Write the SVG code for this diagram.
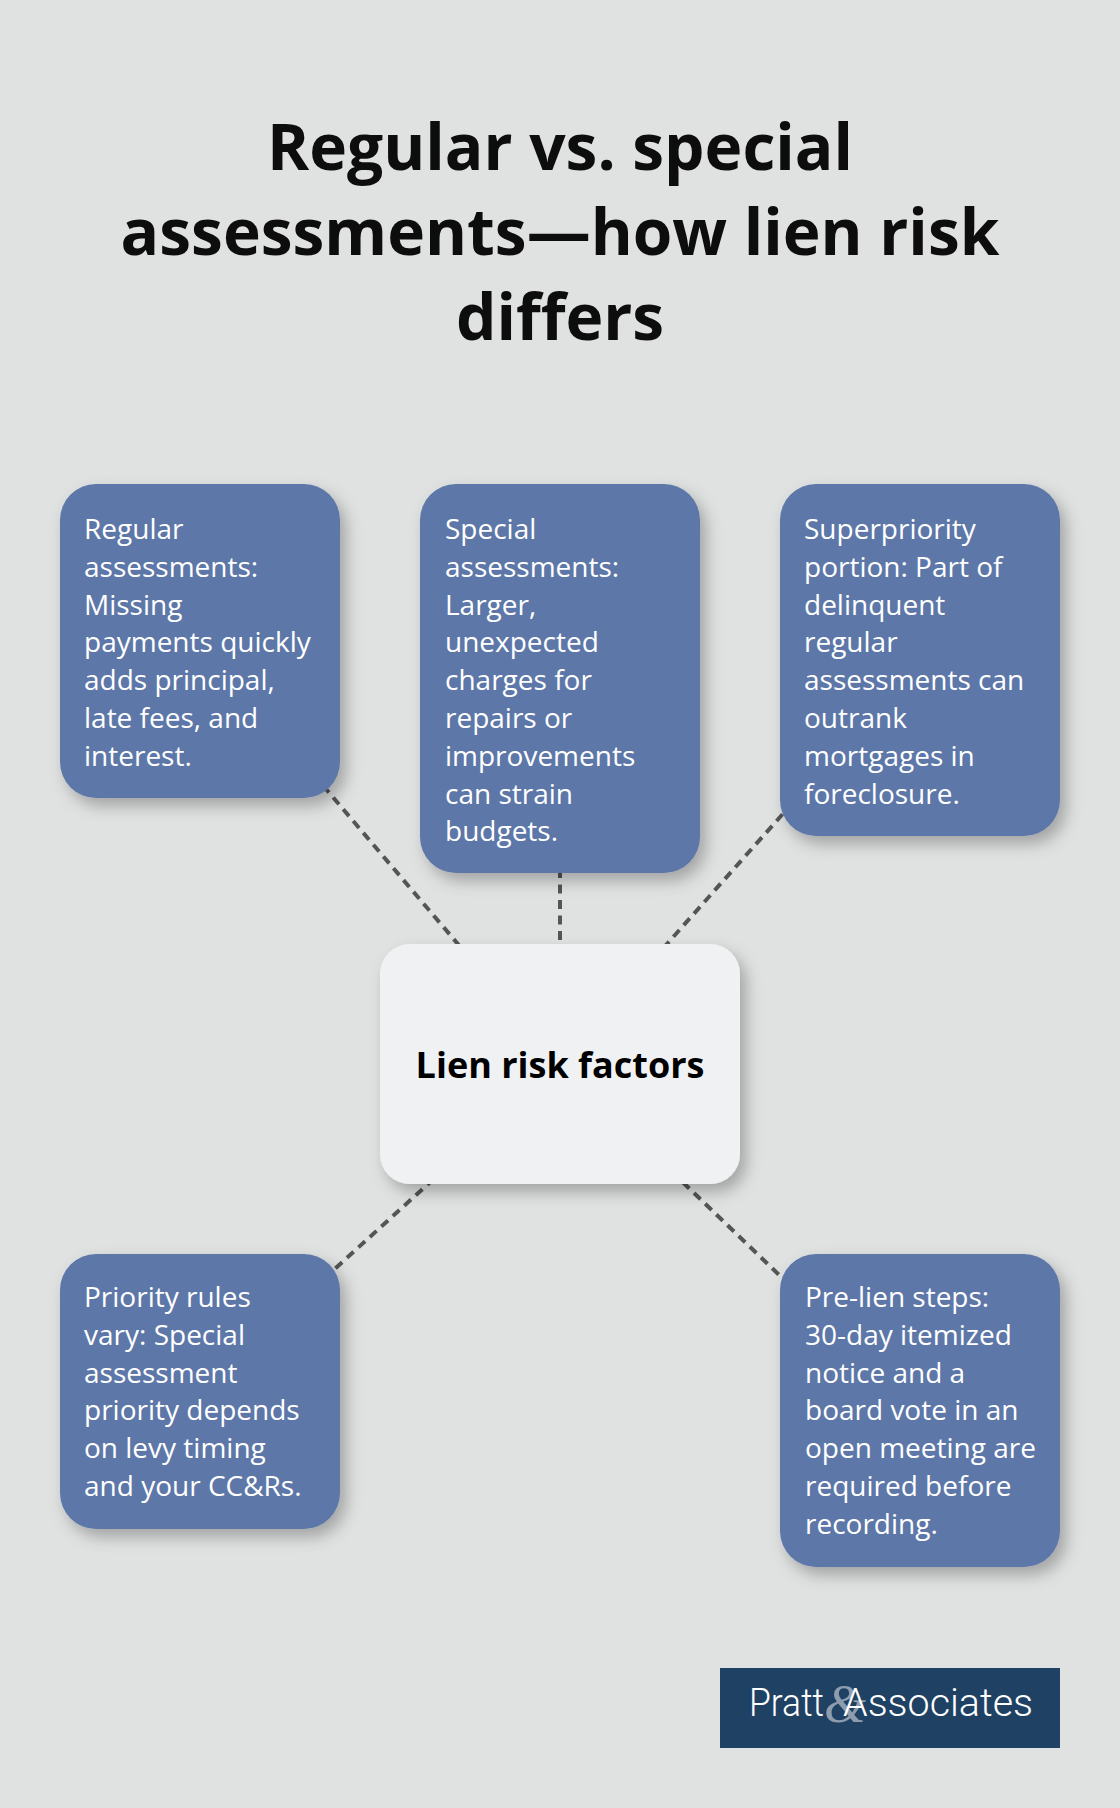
<svg xmlns="http://www.w3.org/2000/svg" width="1120" height="1808" viewBox="0 0 1120 1808">
  <defs>
    <filter id="shadow" x="-20%" y="-20%" width="150%" height="150%">
      <feDropShadow dx="6" dy="8" stdDeviation="8" flood-color="#000" flood-opacity="0.28"/>
    </filter>
    <style>
      .title { font-family: "Open Sans", "Noto Sans", "DejaVu Sans", sans-serif; font-weight: 700; font-size: 64px; fill: #0d0d0d; text-anchor: middle; }
      .box { fill: #5d77a8; filter: url(#shadow); }
      .hub { fill: #f0f1f3; filter: url(#shadow); }
      .body { font-family: "Open Sans", "Noto Sans", "DejaVu Sans", sans-serif; font-size: 28px; fill: #ffffff; }
      .hubtext { font-family: "Open Sans", "Noto Sans", "DejaVu Sans", sans-serif; font-weight: 700; font-size: 36px; fill: #000000; text-anchor: middle; }
      .link { stroke: #555555; stroke-width: 4; stroke-dasharray: 9 6.5; fill: none; }
    </style>
  </defs>

  <rect x="0" y="0" width="1120" height="1808" fill="#e0e2e1"/>

  <g id="title">
    <text class="title" x="560" y="170">Regular vs. special</text>
    <text class="title" x="560" y="255">assessments—how lien risk</text>
    <text class="title" x="560" y="340">differs</text>
  </g>

  <g id="connectors">
    <line class="link" x1="560" y1="1064" x2="200" y2="641"/>
    <line class="link" x1="560" y1="1064" x2="560" y2="678.5"/>
    <line class="link" x1="560" y1="1064" x2="920" y2="660"/>
    <line class="link" x1="560" y1="1064" x2="200" y2="1391.5"/>
    <line class="link" x1="560" y1="1064" x2="920" y2="1410.5"/>
  </g>

  <g id="node-regular">
    <rect class="box" x="60" y="484" width="280" height="314" rx="36"/>
    <text class="body" x="84" y="539">
      <tspan x="84" dy="0">Regular</tspan>
      <tspan x="84" dy="37.8">assessments:</tspan>
      <tspan x="84" dy="37.8">Missing</tspan>
      <tspan x="84" dy="37.8">payments quickly</tspan>
      <tspan x="84" dy="37.8">adds principal,</tspan>
      <tspan x="84" dy="37.8">late fees, and</tspan>
      <tspan x="84" dy="37.8">interest.</tspan>
    </text>
  </g>

  <g id="node-special">
    <rect class="box" x="420" y="484" width="280" height="389" rx="36"/>
    <text class="body" x="445" y="539">
      <tspan x="445" dy="0">Special</tspan>
      <tspan x="445" dy="37.8">assessments:</tspan>
      <tspan x="445" dy="37.8">Larger,</tspan>
      <tspan x="445" dy="37.8">unexpected</tspan>
      <tspan x="445" dy="37.8">charges for</tspan>
      <tspan x="445" dy="37.8">repairs or</tspan>
      <tspan x="445" dy="37.8">improvements</tspan>
      <tspan x="445" dy="37.8">can strain</tspan>
      <tspan x="445" dy="37.8">budgets.</tspan>
    </text>
  </g>

  <g id="node-superpriority">
    <rect class="box" x="780" y="484" width="280" height="352" rx="36"/>
    <text class="body" x="804" y="539">
      <tspan x="804" dy="0">Superpriority</tspan>
      <tspan x="804" dy="37.8">portion: Part of</tspan>
      <tspan x="804" dy="37.8">delinquent</tspan>
      <tspan x="804" dy="37.8">regular</tspan>
      <tspan x="804" dy="37.8">assessments can</tspan>
      <tspan x="804" dy="37.8">outrank</tspan>
      <tspan x="804" dy="37.8">mortgages in</tspan>
      <tspan x="804" dy="37.8">foreclosure.</tspan>
    </text>
  </g>

  <g id="node-hub">
    <rect class="hub" x="380" y="944" width="360" height="240" rx="30"/>
    <text class="hubtext" x="560" y="1078">Lien risk factors</text>
  </g>

  <g id="node-priority">
    <rect class="box" x="60" y="1254" width="280" height="275" rx="36"/>
    <text class="body" x="84" y="1307">
      <tspan x="84" dy="0">Priority rules</tspan>
      <tspan x="84" dy="37.8">vary: Special</tspan>
      <tspan x="84" dy="37.8">assessment</tspan>
      <tspan x="84" dy="37.8">priority depends</tspan>
      <tspan x="84" dy="37.8">on levy timing</tspan>
      <tspan x="84" dy="37.8">and your CC&amp;Rs.</tspan>
    </text>
  </g>

  <g id="node-prelien">
    <rect class="box" x="780" y="1254" width="280" height="313" rx="36"/>
    <text class="body" x="805" y="1307">
      <tspan x="805" dy="0">Pre-lien steps:</tspan>
      <tspan x="805" dy="37.8">30-day itemized</tspan>
      <tspan x="805" dy="37.8">notice and a</tspan>
      <tspan x="805" dy="37.8">board vote in an</tspan>
      <tspan x="805" dy="37.8">open meeting are</tspan>
      <tspan x="805" dy="37.8">required before</tspan>
      <tspan x="805" dy="37.8">recording.</tspan>
    </text>
  </g>

  <g id="logo">
    <rect x="720" y="1668" width="340" height="80" fill="#1f4264"/>
    <text y="1716" fill="#ffffff" font-family="Roboto, 'Liberation Sans', sans-serif" font-weight="300" font-size="39px"><tspan x="749" textLength="75" lengthAdjust="spacingAndGlyphs">Pratt</tspan><tspan x="824" y="1722" font-family="'Liberation Serif', serif" font-style="italic" font-size="54px" fill="#aab4c0" fill-opacity="0.8">&amp;</tspan><tspan x="843" y="1716" textLength="190" lengthAdjust="spacingAndGlyphs">Associates</tspan></text>
  </g>
</svg>
